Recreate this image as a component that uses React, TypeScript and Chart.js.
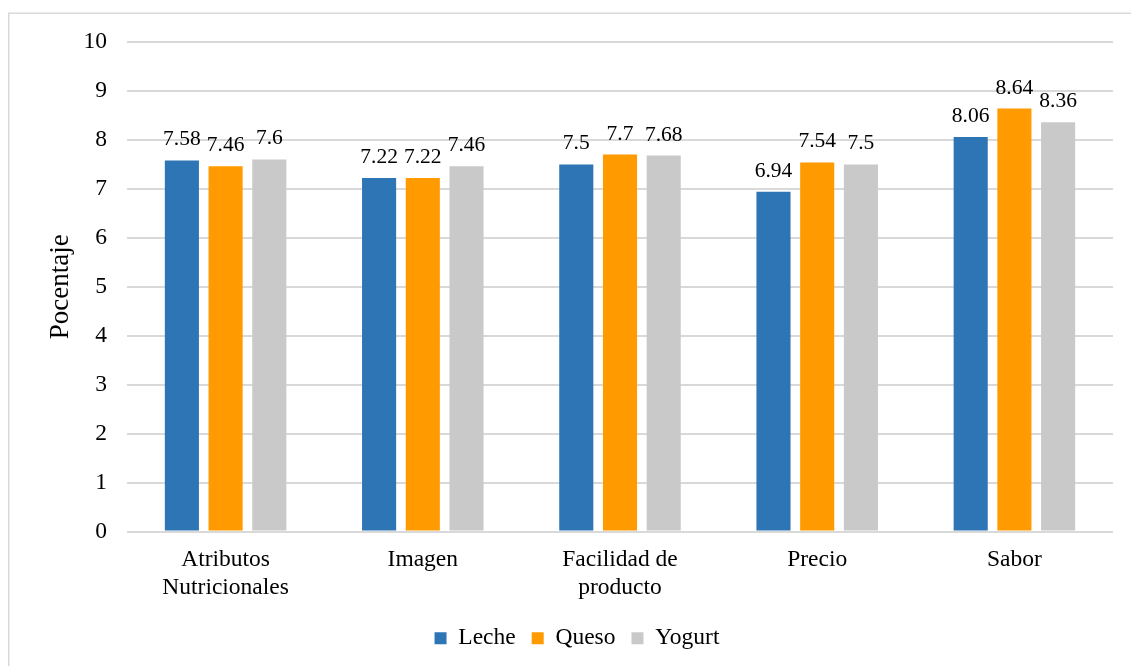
import React, { useEffect, useRef } from "react";
import { Chart, registerables } from "chart.js";

Chart.register(...registerables);

const categories: (string | string[])[] = [
  ["Atributos", "Nutricionales"],
  "Imagen",
  ["Facilidad de", "producto"],
  "Precio",
  "Sabor",
];
const leche = [7.58, 7.22, 7.5, 6.94, 8.06];
const queso = [7.46, 7.22, 7.7, 7.54, 8.64];
const yogurt = [7.6, 7.46, 7.68, 7.5, 8.36];
const seriesNames = ["Leche", "Queso", "Yogurt"];
const seriesColors = ["#2E75B6", "#FF9A00", "#C9C9C9"];
const yTicks = [0, 1, 2, 3, 4, 5, 6, 7, 8, 9, 10];

const FONT = "'Liberation Serif', 'Times New Roman', serif";

const framePlugin = {
  id: "frame",
  beforeDraw(chart: any) {
    const ctx = chart.ctx;
    ctx.save();
    ctx.fillStyle = "#ffffff";
    ctx.fillRect(0, 0, chart.width, chart.height);
    ctx.strokeStyle = "#d9d9d9";
    ctx.lineWidth = 1.5;
    ctx.strokeRect(8.75, 13.25, 1200, 800);
    ctx.restore();
  },
};

const labelPlugin = {
  id: "valueLabels",
  afterDatasetsDraw(chart: any) {
    const ctx = chart.ctx;
    ctx.save();
    ctx.font = `21.5px ${FONT}`;
    ctx.fillStyle = "#000000";
    ctx.textAlign = "center";
    ctx.textBaseline = "alphabetic";
    chart.data.datasets.forEach((ds: any, i: number) => {
      const meta = chart.getDatasetMeta(i);
      meta.data.forEach((bar: any, j: number) => {
        ctx.fillText(String(ds.data[j]), bar.x, bar.y - 15);
      });
    });
    ctx.restore();
  },
};

export default function App() {
  const ref = useRef<HTMLCanvasElement | null>(null);
  useEffect(() => {
    if (!ref.current) return;
    const data = [leche, queso, yogurt];
    const chart = new Chart(ref.current, {
      type: "bar",
      data: {
        labels: categories,
        datasets: data.map((d, i) => ({
          label: seriesNames[i],
          data: d,
          backgroundColor: seriesColors[i],
          borderWidth: 0,
          categoryPercentage: 0.665,
          barPercentage: 0.78,
        })),
      },
      options: {
        animation: false,
        responsive: false,
        maintainAspectRatio: false,
        devicePixelRatio: 1,
        layout: { padding: { left: 41, right: 18, top: 42, bottom: 40 } },
        plugins: {
          tooltip: { enabled: false },
          legend: {
            position: "bottom",
            labels: {
              font: { family: FONT, size: 23.5 },
              color: "#000000",
              boxWidth: 12,
              boxHeight: 12,
              padding: 16,
            },
          },
        },
        scales: {
          x: {
            grid: { display: false, drawTicks: false },
            border: { display: false },
            ticks: {
              font: { family: FONT, size: 23.5, lineHeight: 1.2 },
              color: "#000000",
              padding: 14,
              maxRotation: 0,
              autoSkip: false,
            },
            afterFit(scale: any) {
              scale.height = 79;
            },
          },
          y: {
            min: 0,
            max: 10,
            afterBuildTicks(scale: any) {
              scale.ticks = yTicks.map((v) => ({ value: v }));
            },
            grid: { color: "#d9d9d9", lineWidth: 2, drawTicks: false },
            border: { display: false },
            ticks: {
              font: { family: FONT, size: 23.5 },
              color: "#000000",
              padding: 20,
            },
            title: {
              display: true,
              text: "Pocentaje",
              font: { family: FONT, size: 27 },
              color: "#000000",
              padding: { top: 4, bottom: 4 },
            },
            afterFit(scale: any) {
              scale.width = 86;
            },
          },
        },
      },
      plugins: [framePlugin, labelPlugin],
    });
    return () => chart.destroy();
  }, []);
  return (
    <div
      style={{
        position: "fixed",
        left: 0,
        top: 0,
        width: 1131,
        height: 666,
        overflow: "hidden",
        background: "#fff",
      }}
    >
      <canvas ref={ref} width={1131} height={700} style={{ width: 1131, height: 700, display: "block" }} />
    </div>
  );
}
